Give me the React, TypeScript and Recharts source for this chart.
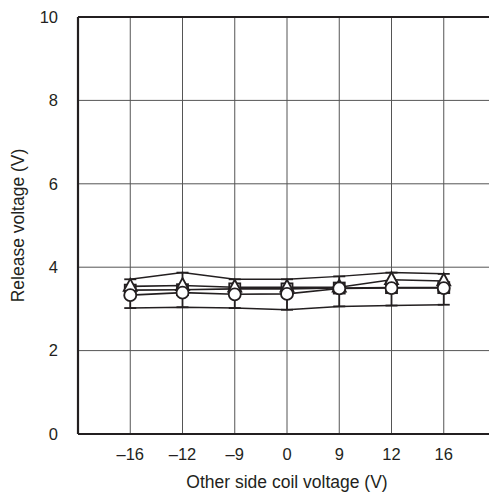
import React from 'react';
import { ComposedChart, Line, XAxis, YAxis, CartesianGrid, ReferenceLine, ErrorBar } from 'recharts';

const categories = ['\u201316', '\u201312', '\u20139', '0', '9', '12', '16'];
const maxValues = [3.71, 3.87, 3.71, 3.71, 3.78, 3.87, 3.84];
const triangleValues = [3.54, 3.56, 3.52, 3.52, 3.52, 3.7, 3.67];
const squareValues = [3.45, 3.46, 3.48, 3.48, 3.5, 3.51, 3.51];
const circleValues = [3.33, 3.39, 3.35, 3.36, 3.49, 3.5, 3.5];
const minValues = [3.02, 3.04, 3.02, 2.98, 3.06, 3.08, 3.1];
const yTicks = [0, 2, 4, 6, 8, 10];

const data = categories.map((c, i) => ({
  x: i + 1,
  label: c,
  max: maxValues[i],
  tri: triangleValues[i],
  sq: squareValues[i],
  circ: circleValues[i],
  min: minValues[i],
  range: [0, maxValues[i] - minValues[i]],
}));

const INK = '#231f20';
const FONT = '"Liberation Sans", Arial, Helvetica, sans-serif';

const SquareDot = (props: any) => {
  const { cx, cy, index } = props;
  return <rect key={`s${index}`} x={cx - 5.5} y={cy - 5.5} width={11} height={11} fill="#fff" stroke={INK} strokeWidth={1.8} />;
};
const TriangleDot = (props: any) => {
  const { cx, cy, index } = props;
  return (
    <polygon
      key={`t${index}`}
      points={`${cx},${cy - 7.5} ${cx + 6.5},${cy + 4.5} ${cx - 6.5},${cy + 4.5}`}
      fill="#fff"
      stroke={INK}
      strokeWidth={1.8}
    />
  );
};
const CircleDot = (props: any) => {
  const { cx, cy, index } = props;
  return <circle key={`o${index}`} cx={cx} cy={cy} r={6} fill="#fff" stroke={INK} strokeWidth={1.8} />;
};

const YLabel = (props: any) => {
  const vb = props.viewBox || {};
  const cy = vb.y + vb.height / 2;
  return (
    <text
      x={18}
      y={cy}
      transform={`rotate(-90, 18, ${cy})`}
      textAnchor="middle"
      dominantBaseline="central"
      fill={INK}
      fontSize={17.5}
      fontFamily={FONT}
    >
      Release voltage (V)
    </text>
  );
};

export default function App() {
  return (
    <div style={{ position: 'absolute', left: 0, top: 0, width: 489, height: 499, overflow: 'hidden', background: '#fff' }}>
      <ComposedChart width={500} height={499} data={data} margin={{ top: 17, right: 4, bottom: 0, left: 0 }}>
        <CartesianGrid stroke="#555" strokeWidth={1} />
        <XAxis
          dataKey="x"
          type="number"
          domain={[0, 8]}
          ticks={[1, 2, 3, 4, 5, 6, 7]}
          tickFormatter={(v: number) => categories[v - 1]}
          height={65}
          tickLine={false}
          tickSize={0}
          tickMargin={14}
          axisLine={{ stroke: INK, strokeWidth: 2.2 }}
          tick={{ fill: INK, fontSize: 16.5, fontFamily: FONT }}
          label={{ value: 'Other side coil voltage (V)', position: 'insideBottom', offset: 11, fill: INK, fontSize: 17.5, fontFamily: FONT }}
        />
        <YAxis
          type="number"
          domain={[0, 10]}
          ticks={yTicks}
          width={78}
          tickLine={false}
          tickSize={0}
          tickMargin={20}
          axisLine={{ stroke: INK, strokeWidth: 2.2 }}
          tick={{ fill: INK, fontSize: 16.5, fontFamily: FONT }}
          label={{ content: YLabel }}
        />
        <ReferenceLine y={10} stroke={INK} strokeWidth={2.2} />
        <Line dataKey="max" stroke={INK} strokeWidth={1.5} dot={false} isAnimationActive={false} />
        <Line dataKey="min" stroke={INK} strokeWidth={1.5} dot={false} isAnimationActive={false}>
          <ErrorBar dataKey="range" direction="y" width={6} stroke={INK} strokeWidth={1.8} isAnimationActive={false} />
        </Line>
        <Line dataKey="sq" stroke={INK} strokeWidth={1.6} dot={SquareDot} isAnimationActive={false} />
        <Line dataKey="tri" stroke={INK} strokeWidth={1.6} dot={TriangleDot} isAnimationActive={false} />
        <Line dataKey="circ" stroke={INK} strokeWidth={1.6} dot={CircleDot} isAnimationActive={false} />
      </ComposedChart>
    </div>
  );
}
